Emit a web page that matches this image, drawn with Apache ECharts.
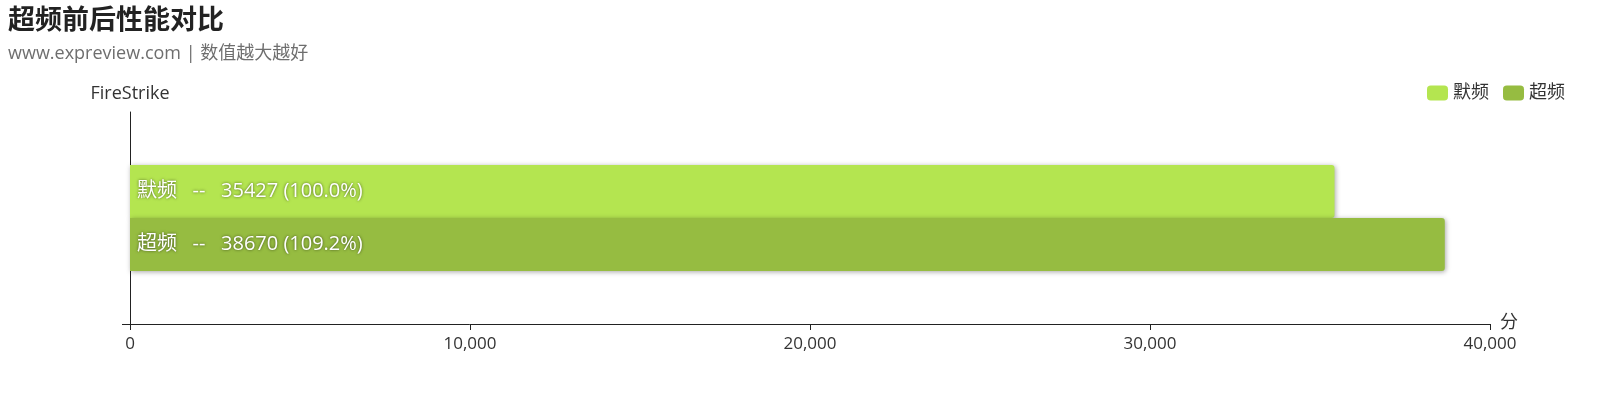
<!DOCTYPE html>
<html>
<head>
<meta charset="utf-8">
<script src="https://cdn.jsdelivr.net/npm/echarts@6/dist/echarts.min.js"></script>
<style>
html,body{margin:0;padding:0;background:#fff;}
#main{width:1620px;height:418px;}
</style>
</head>
<body>
<div id="main"></div>
<script>
var categories = ['FireStrike'];
var seriesNames = ['默频', '超频'];
var defaultValues = [35427];
var ocValues = [38670];
var xTicks = [0, 10000, 20000, 30000, 40000];
var colors = ['#b4e550', '#96bc41'];

var FONT = "'Open Sans', 'Noto Sans CJK SC', sans-serif";
var base = defaultValues[0];

function labelFmt(p) {
  return p.seriesName + '   --   ' + p.value + ' (' + (p.value / base * 100).toFixed(1) + '%)';
}

var chart = echarts.init(document.getElementById('main'), null, {renderer: 'canvas'});
var seriesData = [defaultValues, ocValues];
var option = {
  backgroundColor: '#fff',
  textStyle: {fontFamily: FONT},
  title: {
    text: '超频前后性能对比',
    subtext: 'www.expreview.com | 数值越大越好',
    left: 3, top: 0,
    itemGap: 13,
    textStyle: {fontSize: 27, fontWeight: 'bold', color: '#222', fontFamily: "'Noto Sans CJK SC', sans-serif"},
    subtextStyle: {fontSize: 18, color: '#6e6e6e', fontFamily: FONT}
  },
  legend: {
    data: seriesNames,
    right: 50, top: 79,
    itemWidth: 21, itemHeight: 15, itemGap: 14,
    icon: 'roundRect',
    textStyle: {fontSize: 18, color: '#333', fontFamily: FONT}
  },
  grid: {left: 130, right: 130, top: 112, bottom: 94, containLabel: false},
  xAxis: {
    type: 'value',
    min: xTicks[0], max: xTicks[xTicks.length - 1], interval: xTicks[1] - xTicks[0],
    name: '分', nameLocation: 'end', nameGap: 10,
    nameTextStyle: {fontSize: 18, color: '#333', verticalAlign: 'bottom', padding: [0, 0, -8, 0]},
    axisLine: {show: true, lineStyle: {color: '#222', width: 1}},
    axisTick: {show: true, length: 6, lineStyle: {color: '#222'}},
    axisLabel: {fontSize: 17, color: '#333', margin: 12,
      formatter: function (v) { return v.toLocaleString('en-US'); }},
    splitLine: {show: false}
  },
  yAxis: [{
    type: 'category',
    data: categories,
    name: 'FireStrike', nameLocation: 'end', nameGap: 9,
    nameTextStyle: {fontSize: 18, color: '#333', align: 'center'},
    axisLine: {show: true, lineStyle: {color: '#222', width: 1}},
    axisTick: {show: false},
    axisLabel: {show: false},
    splitLine: {show: false}
  }, {
    type: 'value',
    position: 'left',
    min: 0, max: 1,
    axisLine: {show: false},
    axisTick: {show: true, length: 8, customValues: [0], lineStyle: {color: '#222'}},
    axisLabel: {show: false},
    splitLine: {show: false}
  }],
  series: seriesNames.map(function (n, i) {
    return {
      name: n,
      type: 'bar',
      yAxisIndex: 0,
      data: seriesData[i],
      barGap: '0%',
      barCategoryGap: '50%',
      itemStyle: {
        color: colors[i],
        borderRadius: [0, 3, 3, 0],
        shadowColor: 'rgba(0,0,0,0.35)',
        shadowBlur: 5,
        shadowOffsetX: 1,
        shadowOffsetY: 1
      },
      label: {
        show: true,
        position: 'insideLeft',
        distance: 7,
        formatter: labelFmt,
        color: '#fff',
        fontSize: 20,
        fontFamily: FONT,
        textShadowColor: 'rgba(0,0,0,0.6)',
        textShadowBlur: 3
      }
    };
  })
};
chart.setOption(option);
</script>
</body>
</html>
